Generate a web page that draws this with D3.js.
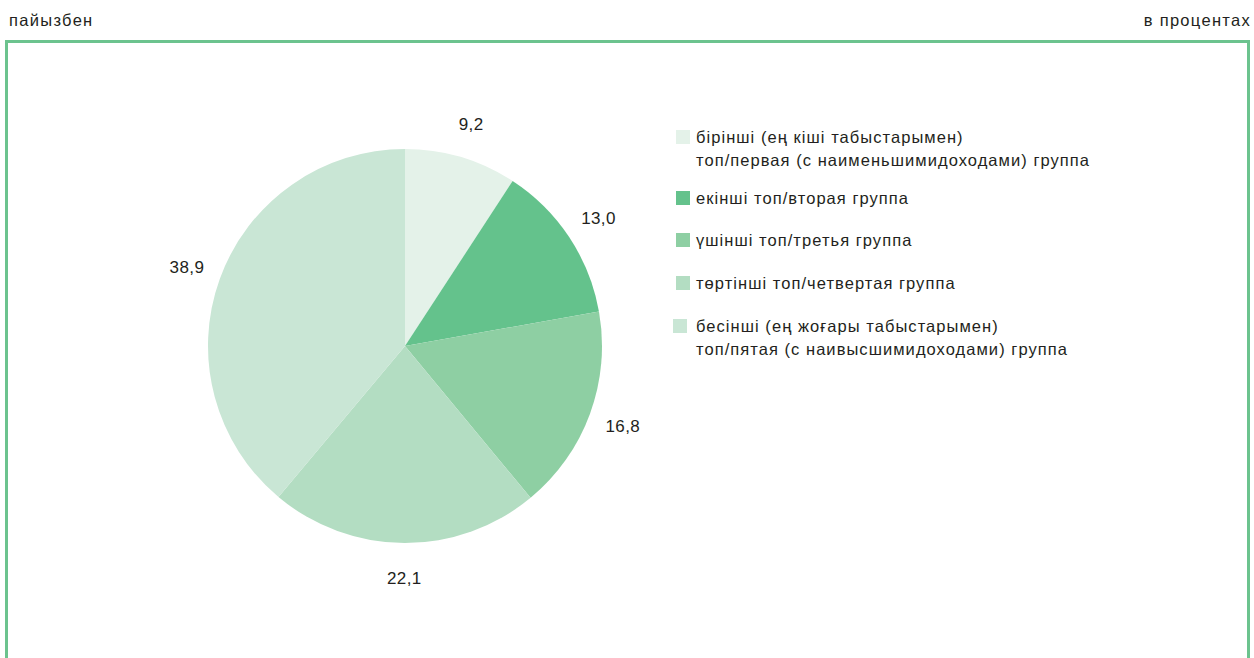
<!DOCTYPE html>
<meta charset="utf-8">
<style>
body { margin: 0; background: #fff; }
svg { display: block; font-family: "Liberation Sans", Arial, sans-serif; }
.lbl { font-size: 17px; fill: #231f20; letter-spacing: 0.4px; }
.head { font-size: 16.5px; fill: #231f20; letter-spacing: 1.3px; }
.leg { font-size: 16.5px; fill: #231f20; letter-spacing: 1.05px; }
</style>
<body>
<div id="chart"></div>
<script src="https://d3js.org/d3.v7.min.js"></script>
<script>

var width = 1254,
    height = 658;

// data
var groups = [
  ["бірінші (ең кіші табыстарымен)", "топ/первая (с наименьшимидоходами) группа"],
  ["екінші топ/вторая группа"],
  ["үшінші топ/третья группа"],
  ["төртінші топ/четвертая группа"],
  ["бесінші (ең жоғары табыстарымен)", "топ/пятая (с наивысшимидоходами) группа"]
];
var shares = [9.2, 13.0, 16.8, 22.1, 38.9];
var colors = ["#e4f2e9", "#64c28c", "#8ecfa3", "#b3ddc2", "#c9e6d5"];

var svg = d3.select("#chart").append("svg")
    .attr("width", width)
    .attr("height", height);

// units
svg.append("text").attr("class", "head")
    .attr("x", 9).attr("y", 26)
    .text("пайызбен");
svg.append("text").attr("class", "head")
    .attr("x", 1251).attr("y", 26)
    .attr("text-anchor", "end")
    .text("в процентах");

// frame (open at the bottom)
svg.append("path")
    .attr("d", "M6.5," + (height + 5) + "V41.5H1248.5V" + (height + 5))
    .attr("fill", "none")
    .attr("stroke", "#6cc38e")
    .attr("stroke-width", 3);

var cx = 405, cy = 346, radius = 197;

var pie = d3.pie().sort(null).value(function(d) { return d; });
var arc = d3.arc().innerRadius(0).outerRadius(radius);
var labelArc = d3.arc().innerRadius(232).outerRadius(232);

var g = svg.append("g").attr("transform", "translate(" + cx + "," + cy + ")");
var arcs = pie(shares);

g.selectAll("path.slice")
  .data(arcs)
  .enter().append("path")
    .attr("class", "slice")
    .attr("d", arc)
    .attr("fill", function(d, i) { return colors[i]; });

var fmt = function(v) { return d3.format(".1f")(v).replace(".", ","); };

g.selectAll("text.val")
  .data(arcs)
  .enter().append("text")
    .attr("class", "lbl val")
    .attr("transform", function(d) { return "translate(" + labelArc.centroid(d) + ")"; })
    .attr("text-anchor", "middle")
    .attr("dy", "0.35em")
    .text(function(d) { return fmt(d.data); });

// legend
var legY = [137, 198, 240, 283, 326];
var leg = svg.append("g").selectAll("g")
  .data(groups)
  .enter().append("g")
    .attr("transform", function(d, i) { return "translate(676," + legY[i] + ")"; });

leg.append("rect")
    .attr("x", function(d, i) { return i === 4 ? -3 : 0; })
    .attr("y", -7)
    .attr("width", 14)
    .attr("height", 14)
    .attr("fill", function(d, i) { return colors[i]; });

leg.append("text")
    .attr("class", "leg")
    .selectAll("tspan")
    .data(function(d) { return d; })
    .enter().append("tspan")
      .attr("x", 20)
      .attr("y", function(d, j) { return j * 23; })
      .attr("dy", "0.35em")
      .text(function(d) { return d; });

</script>
</body>
